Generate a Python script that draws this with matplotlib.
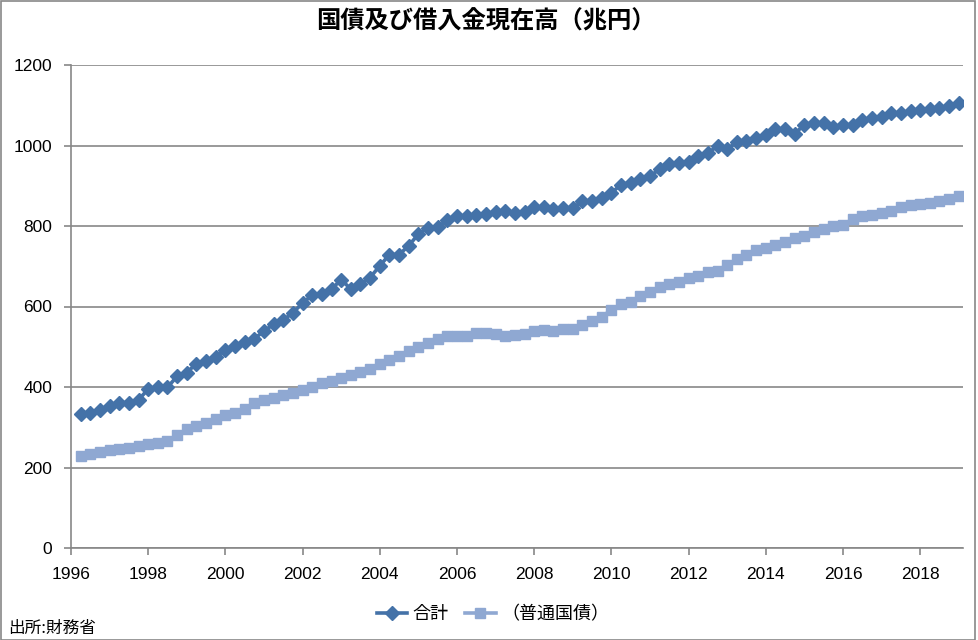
import matplotlib
matplotlib.use("Agg")
import matplotlib.pyplot as plt
from matplotlib.patches import Rectangle
import pandas as pd

plt.rcParams['font.family'] = ['Liberation Sans', 'Noto Sans CJK JP']

# quarter-end data, 1996Q1 (end of March 1996) .. 2018Q4
quarters = pd.period_range('1996Q1', '2018Q4', freq='Q')

# 合計 (total, trillion yen)
total = [333, 335, 343, 354, 361, 361, 368, 395, 399, 399,
         427, 436, 458, 464, 475, 492, 502, 511, 520, 539,
         556, 566, 585, 608, 629, 630, 643, 667, 643, 655,
         672, 701, 729, 729, 751, 780, 796, 798, 814, 826,
         825, 828, 831, 834, 837, 833, 835, 847, 848, 843,
         845, 844, 862, 863, 870, 882, 903, 908, 917, 923,
         942, 954, 957, 960, 975, 982, 998, 992, 1008, 1011,
         1019, 1026, 1041, 1040, 1029, 1052, 1057, 1055, 1045, 1050,
         1052, 1064, 1068, 1072, 1080, 1080, 1085, 1088, 1090, 1093,
         1099, 1106]

# 普通国債 (ordinary government bonds)
ordinary = [228, 234, 238, 243, 245, 248, 254, 259, 261, 267,
            280, 295, 302, 310, 320, 330, 336, 346, 361, 367,
            373, 379, 384, 393, 401, 410, 415, 422, 430, 437,
            445, 457, 467, 477, 490, 500, 510, 520, 526, 526,
            527, 534, 534, 531, 526, 530, 532, 539, 542, 540,
            545, 545, 553, 563, 574, 592, 606, 612, 627, 635,
            648, 655, 662, 670, 677, 686, 689, 704, 717, 729,
            740, 745, 752, 760, 769, 774, 784, 793, 799, 803,
            817, 826, 827, 832, 837, 847, 851, 855, 858, 862,
            867, 875]

x = quarters.year + quarters.quarter / 4

fig = plt.figure(figsize=(9.79, 6.4), dpi=100)
ax = fig.add_axes([71 / 979, 92 / 640, 892 / 979, 483 / 640])

ax.plot(x, total, color='#4472a8', lw=2.6, marker='D', ms=7, label='合計', zorder=3)
ax.plot(x, ordinary, color='#8fa8d2', lw=2.6, marker='s', ms=7.5, label='（普通国債）', zorder=3)

ax.set_xlim(1996, 2019.11)
ax.set_ylim(0, 1200)
ax.set_xticks(range(1996, 2019, 2))
ax.set_yticks(range(0, 1201, 200))
ax.grid(axis='y', color='#878787', lw=1.2)
ax.set_axisbelow(True)
for s in ['top', 'right']:
    ax.spines[s].set_visible(False)
for s in ['left', 'bottom']:
    ax.spines[s].set_color('#878787')
    ax.spines[s].set_linewidth(1.2)
ax.tick_params(axis='both', length=5, width=1.2, color='#878787', labelsize=12.5, pad=8.5)

fig.suptitle('国債及び借入金現在高（兆円）', x=0.496, y=0.985, fontsize=17.5,
             fontweight='bold', family=['Noto Sans CJK JP'])

ax.legend(loc='upper center', bbox_to_anchor=(0.473, -0.085), ncol=2, frameon=False,
          handlelength=1.7, columnspacing=0.9, handletextpad=0.3,
          prop={'family': ['Noto Sans CJK JP'], 'size': 13})

fig.text(8 / 979, 1 - 628 / 640, '出所:財務省', fontsize=12, va='center',
         family=['Noto Sans CJK JP'])

fig.patches.append(Rectangle((0.5 / 979, 0.5 / 640), 975 / 979, 638.5 / 640,
                             transform=fig.transFigure, fill=False,
                             edgecolor='#878787', lw=1.2))

fig.savefig('out.png', dpi=100)
